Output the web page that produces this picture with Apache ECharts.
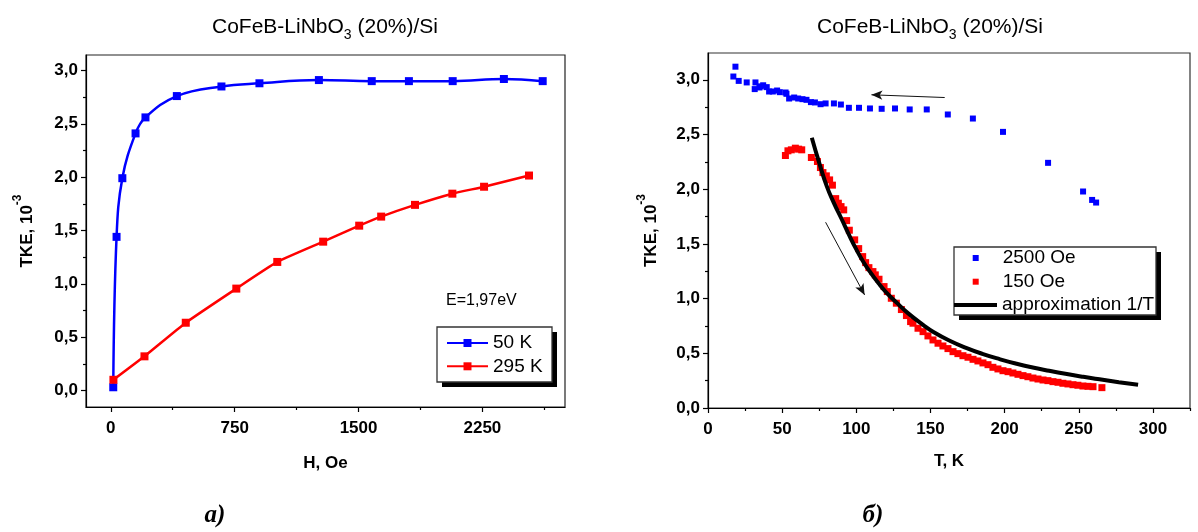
<!DOCTYPE html>
<html><head><meta charset="utf-8">
<script src="https://cdn.jsdelivr.net/npm/echarts@6/dist/echarts.min.js"></script>
<style>html,body{margin:0;padding:0;background:#fff}#c{width:1198px;height:532px}</style>
</head><body><div id="c"></div><script>
// ---------- Panel a): TKE vs H ----------
const H_50K   = [15, 35, 70, 150, 210, 400, 670, 900, 1260, 1580, 1805, 2070, 2380, 2615];
const TKE_50K = [0.03, 1.44, 1.99, 2.41, 2.56, 2.76, 2.85, 2.88, 2.91, 2.90, 2.90, 2.90, 2.92, 2.90];
const H_295K   = [16, 204, 454, 760, 1008, 1286, 1504, 1637, 1842, 2068, 2260, 2532];
const TKE_295K = [0.10, 0.32, 0.635, 0.955, 1.205, 1.395, 1.545, 1.63, 1.74, 1.845, 1.91, 2.015];
const H_TICKS = [0, 750, 1500, 2250];
const H_MINOR = [375, 1125, 1875, 2625];
const TKE_TICKS_A = [0, 0.5, 1.0, 1.5, 2.0, 2.5, 3.0];
const TKE_MINOR_A = [0.25, 0.75, 1.25, 1.75, 2.25, 2.75];

// ---------- Panel б): TKE vs T ----------
const T_2500 = [18.5, 17.1, 20.7, 26.1, 32.0, 31.5, 34.7, 35.6, 37.2, 39.6, 41.2, 43.7, 46.6, 48.4, 52.3, 52.9, 54.7, 58.1, 60.8, 63.7, 66.4, 69.4, 72.1, 75.9, 79.3, 84.9, 89.6, 95.0, 101.8, 109.2, 117.1, 126.1, 136.0, 147.5, 161.7, 178.6, 198.9, 229.3, 252.9, 259.0, 261.7];
const V_2500 = [3.12, 3.03, 2.99, 2.976, 2.976, 2.915, 2.93, 2.94, 2.95, 2.933, 2.893, 2.893, 2.902, 2.887, 2.884, 2.872, 2.829, 2.838, 2.829, 2.823, 2.817, 2.796, 2.793, 2.777, 2.784, 2.784, 2.774, 2.744, 2.744, 2.738, 2.735, 2.738, 2.729, 2.729, 2.683, 2.646, 2.524, 2.241, 1.979, 1.902, 1.878];
const T_150 = [52.2, 53.9, 56.2, 58.9, 61.1, 63.2, 69.7, 73.8, 75.8, 77.5, 79.8, 82.0, 83.9, 86.1, 87.9, 89.7, 91.5, 93.5, 95.3, 98.9, 101.6, 104.3, 106.3, 108.5, 111.2, 112.8, 115.3, 118.7, 120.9, 123.6, 127.0, 130.4, 133.8, 136.6, 138.2, 141.6, 145.0, 148.3, 151.7, 155.1, 158.4, 161.8, 165.2, 168.5, 171.9, 175.3, 178.7, 182.0, 185.4, 188.8, 192.1, 195.5, 198.9, 202.3, 205.6, 209.0, 212.4, 215.7, 219.1, 222.5, 225.9, 229.2, 232.6, 236.0, 239.3, 242.7, 246.1, 249.4, 252.8, 256.2, 259.6, 265.6];
const V_150 = [2.308, 2.351, 2.36, 2.375, 2.366, 2.36, 2.29, 2.253, 2.198, 2.152, 2.122, 2.085, 2.037, 1.914, 1.872, 1.841, 1.811, 1.713, 1.625, 1.537, 1.457, 1.384, 1.329, 1.283, 1.247, 1.217, 1.177, 1.11, 1.064, 1.003, 0.958, 0.9, 0.845, 0.79, 0.775, 0.729, 0.698, 0.659, 0.622, 0.592, 0.567, 0.543, 0.515, 0.497, 0.478, 0.464, 0.445, 0.43, 0.412, 0.396, 0.372, 0.357, 0.341, 0.332, 0.32, 0.308, 0.296, 0.286, 0.274, 0.265, 0.256, 0.25, 0.241, 0.235, 0.226, 0.22, 0.213, 0.208, 0.201, 0.198, 0.195, 0.186];
const T_FIT = [70, 75, 80, 85, 90, 95, 100, 105, 110, 115, 120, 127, 135, 145, 152, 163, 174, 185, 197, 208, 219, 230, 242, 253, 264, 277, 290];
const V_FIT = [2.47, 2.24, 2.03, 1.87, 1.73, 1.585, 1.45, 1.33, 1.23, 1.14, 1.06, 0.965, 0.865, 0.76, 0.695, 0.615, 0.55, 0.495, 0.445, 0.405, 0.37, 0.34, 0.31, 0.285, 0.262, 0.236, 0.212];
const ARROWS = [[[159.6, 2.838], [110.2, 2.863]], [[79.3, 1.698], [105.6, 1.034]]];
const T_TICKS = [0, 50, 100, 150, 200, 250, 300];
const T_MINOR = [25, 75, 125, 175, 225, 275, 325];
const TKE_TICKS_B = [0, 0.5, 1.0, 1.5, 2.0, 2.5, 3.0];
const TKE_MINOR_B = [0.25, 0.75, 1.25, 1.75, 2.25, 2.75];

const FONT = "'Liberation Sans', Arial, Helvetica, sans-serif";
const fmt = v => v.toFixed(1).replace('.', ',');
const pairs = (xs, ys) => xs.map((x, i) => [x, ys[i]]);
const BLACK = '#000';

function mainX(grid, min, max, ticks, name, gap) {
  return {
    gridIndex: grid, type: 'value', min, max, position: 'bottom',
    axisLine: { onZero: false, lineStyle: { color: BLACK, width: 1.2 } },
    axisTick: { customValues: ticks, length: 5, lineStyle: { color: BLACK, width: 1.2 } },
    axisLabel: { customValues: ticks, formatter: v => String(v), fontFamily: FONT, fontWeight: 'bold', fontSize: 17, color: BLACK, margin: 13 },
    splitLine: { show: false },
    name, nameLocation: 'middle', nameGap: gap,
    nameTextStyle: { fontFamily: FONT, fontWeight: 'bold', fontSize: 17, color: BLACK }
  };
}
function minorAx(grid, min, max, ticks, pos) {
  return {
    gridIndex: grid, type: 'value', min, max, position: pos, offset: 0,
    axisLine: { show: false, onZero: false },
    axisTick: { customValues: ticks, length: 3, lineStyle: { color: BLACK, width: 1.2 } },
    axisLabel: { show: false }, splitLine: { show: false }
  };
}
function mainY(grid, min, max, ticks, gap) {
  return {
    gridIndex: grid, type: 'value', min, max, position: 'left',
    axisLine: { onZero: false, lineStyle: { color: BLACK, width: 1.2 } },
    axisTick: { customValues: ticks, length: 5, lineStyle: { color: BLACK, width: 1.2 } },
    axisLabel: { customValues: ticks, formatter: fmt, fontFamily: FONT, fontWeight: 'bold', fontSize: 17, color: BLACK, margin: 8 },
    splitLine: { show: false },
    name: '{m|TKE, 10}{s|-3}', nameLocation: 'middle', nameGap: gap,
    nameTextStyle: {
      rich: {
        m: { fontFamily: FONT, fontWeight: 'bold', fontSize: 17, color: BLACK, lineHeight: 24, verticalAlign: 'bottom' },
        s: { fontFamily: FONT, fontWeight: 'bold', fontSize: 12, color: BLACK, lineHeight: 24, verticalAlign: 'top' }
      }
    }
  };
}

const titleRich = {
  m: { fontFamily: FONT, fontSize: 21, color: '#111', lineHeight: 30, verticalAlign: 'middle' },
  s: { fontFamily: FONT, fontSize: 14, color: '#111', lineHeight: 30, verticalAlign: 'bottom' }
};
const titleText = '{m|CoFeB-LiNbO}{s|3}{m| (20%)/Si}';

const legendCommon = {
  orient: 'vertical', backgroundColor: 'transparent', borderWidth: 0, padding: 0,
  selectedMode: false, z: 30, symbolKeepAspect: true,
  textStyle: { fontFamily: FONT, fontSize: 19, color: BLACK, lineHeight: 19 }
};
// legend frame: hard black shadow + white box with dark border
function legendBox(x, y, w, h) {
  return [
    { type: 'rect', z: 20, shape: { x: x + 5, y: y + 5, width: w, height: h }, style: { fill: '#000' } },
    { type: 'rect', z: 21, shape: { x, y, width: w, height: h }, style: { fill: '#fff', stroke: '#333', lineWidth: 1.3 } }
  ];
}

const option = {
  animation: false,
  backgroundColor: '#fff',
  grid: [
    { left: 86, top: 55, width: 479, height: 352, show: true, borderColor: '#222', borderWidth: 1.2, backgroundColor: 'transparent' },
    { left: 708, top: 53, width: 482, height: 355, show: true, borderColor: '#333', borderWidth: 1.2, backgroundColor: 'transparent' }
  ],
  xAxis: [
    mainX(0, -150, 2750, H_TICKS, 'H, Oe', 48),
    minorAx(0, -150, 2750, H_MINOR, 'bottom'),
    mainX(1, 0, 325, T_TICKS, 'T, K', 45),
    minorAx(1, 0, 325, T_MINOR, 'bottom')
  ],
  yAxis: [
    mainY(0, -0.155, 3.145, TKE_TICKS_A, 50),
    minorAx(0, -0.155, 3.145, TKE_MINOR_A, 'left'),
    mainY(1, 0, 3.245, TKE_TICKS_B, 48),
    minorAx(1, 0, 3.245, TKE_MINOR_B, 'left')
  ],
  legend: [
    Object.assign({}, legendCommon, {
      data: ['50 K', '295 K'], left: 446, top: 333.5,
      itemWidth: 41, itemHeight: 10, itemGap: 4.3
    }),
    Object.assign({}, legendCommon, {
      data: [{ name: '2500 Oe', icon: 'rect' }, { name: '150 Oe', icon: 'rect' }], left: 972.7, top: 248.5,
      itemWidth: 6, itemHeight: 6, itemGap: 4.7,
      textStyle: Object.assign({}, legendCommon.textStyle, { padding: [0, 0, 0, 19] })
    }),
    Object.assign({}, legendCommon, {
      data: [{ name: 'approximation 1/T', icon: 'rect' }], left: 954, top: 295.5,
      itemWidth: 43, itemHeight: 4
    })
  ],
  series: [
    {
      name: '50 K', type: 'line', xAxisIndex: 0, yAxisIndex: 0,
      data: pairs(H_50K, TKE_50K), smooth: 0.4,
      symbol: 'rect', symbolSize: 8, showAllSymbol: true,
      lineStyle: { color: '#0000ff', width: 2.5 }, itemStyle: { color: '#0000ff' }
    },
    {
      name: '295 K', type: 'line', xAxisIndex: 0, yAxisIndex: 0,
      data: pairs(H_295K, TKE_295K), smooth: 0.15,
      symbol: 'rect', symbolSize: 8, showAllSymbol: true,
      lineStyle: { color: '#ff0000', width: 2.5 }, itemStyle: { color: '#ff0000' }
    },
    {
      name: '2500 Oe', type: 'scatter', xAxisIndex: 2, yAxisIndex: 2,
      data: pairs(T_2500, V_2500), symbol: 'rect', symbolSize: 6,
      itemStyle: { color: '#0000ff', opacity: 1 }
    },
    {
      name: '150 Oe', type: 'scatter', xAxisIndex: 2, yAxisIndex: 2,
      data: pairs(T_150, V_150), symbol: 'rect', symbolSize: 7,
      itemStyle: { color: '#ff0000', opacity: 1 }
    },
    {
      name: 'approximation 1/T', type: 'line', xAxisIndex: 2, yAxisIndex: 2,
      data: pairs(T_FIT, V_FIT), smooth: 0.5, symbol: 'none',
      lineStyle: { color: '#000', width: 4 }, itemStyle: { color: '#000' },
      markLine: {
        silent: true, symbol: ['none', 'arrow'], symbolSize: [7, 11],
        label: { show: false },
        lineStyle: { color: '#111', width: 1, type: 'solid' },
        data: ARROWS.map(a => [{ coord: a[0] }, { coord: a[1] }])
      }
    }
  ],
  graphic: [
    ...legendBox(437, 327, 115, 55),
    ...legendBox(954, 247, 202, 68),
    { type: 'text', x: 325, y: 12, style: { text: titleText, rich: titleRich, textAlign: 'center' } },
    { type: 'text', x: 930, y: 12, style: { text: titleText, rich: titleRich, textAlign: 'center' } },
    { type: 'text', x: 215, y: 503, style: { text: 'a)', font: "italic bold 25px 'Liberation Serif', 'Times New Roman', serif", fill: '#000', textAlign: 'center' } },
    { type: 'text', x: 873, y: 503, style: { text: 'б)', font: "italic bold 25px 'Liberation Serif', 'Times New Roman', serif", fill: '#000', textAlign: 'center' } },
    { type: 'text', x: 446, y: 293, style: { text: 'E=1,97eV', font: "16px 'Liberation Sans', Arial, sans-serif", fill: '#000' } }
  ]
};
const chart = echarts.init(document.getElementById('c'));
chart.setOption(option);
</script></body></html>
